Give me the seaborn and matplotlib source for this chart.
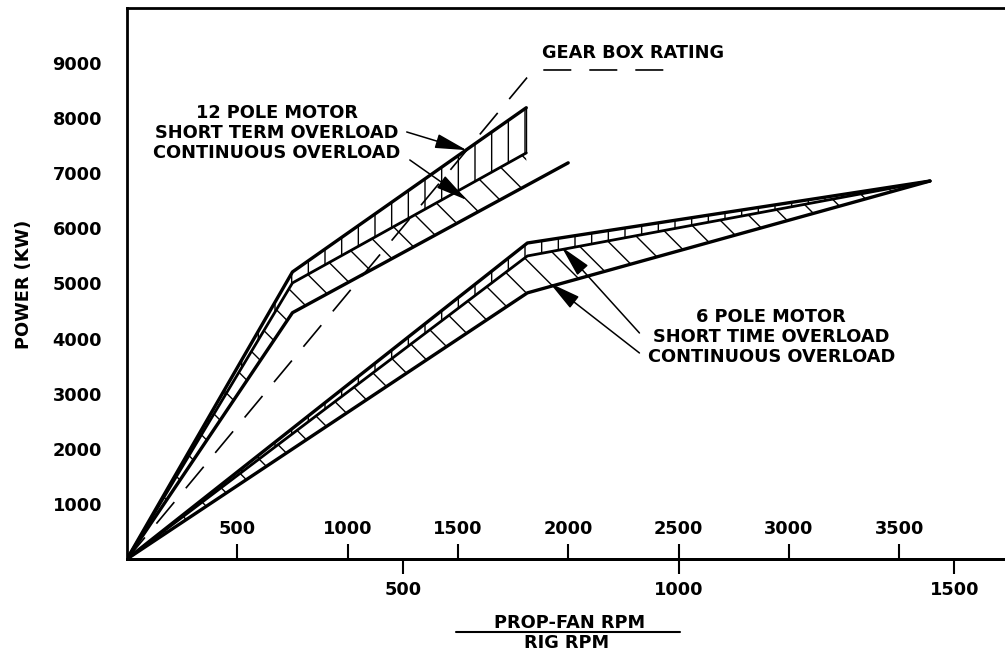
import numpy as np
import matplotlib
matplotlib.use("Agg")
import matplotlib.pyplot as plt
import seaborn as sns
from matplotlib.lines import Line2D

# ---------------- data ----------------
rig_rpm_ticks = [500, 1000, 1500, 2000, 2500, 3000, 3500]
prop_rpm_ticks = [500, 1000, 1500]
power_ticks = [1000, 2000, 3000, 4000, 5000, 6000, 7000, 8000, 9000]
rig_per_prop = 2.5

# 12 pole motor
rpm12 = [0, 750, 1810]
pw12_short = [0, 5210, 8190]      # short term overload
pw12_cont = [0, 5010, 7370]       # continuous overload (upper edge)
rpm12_low = [0, 750, 2000]
pw12_low = [0, 4470, 7190]        # continuous overload (lower edge)

# 6 pole motor
rpm6 = [0, 1815, 3640]
pw6_short = [0, 5735, 6860]
pw6_cont = [0, 5500, 6860]
pw6_low = [0, 4830, 6860]

# gear box rating
rpm_gear = [0, 1812, 1880, 2482]
pw_gear = [0, 8730, 8875, 8875]

label12 = ["12 POLE MOTOR", "SHORT TERM OVERLOAD", "CONTINUOUS OVERLOAD"]
label6 = ["6 POLE MOTOR", "SHORT TIME OVERLOAD", "CONTINUOUS OVERLOAD"]
label_gear = "GEAR BOX RATING"
ylabel = "POWER (KW)"
xlabel_top = "PROP-FAN RPM"
xlabel_bot = "RIG RPM"

# ---------------- style ----------------
sns.set_theme(style="white")
FS = 12.8
plt.rcParams.update({
    "font.family": ["DejaVu Sans"],
    "font.weight": "bold",
    "font.size": FS,
    "axes.labelweight": "bold",
    "axes.labelcolor": "black",
    "hatch.linewidth": 1.0,
    "hatch.color": "black",
    "axes.edgecolor": "black",
    "xtick.color": "black",
    "ytick.color": "black",
    "xtick.labelcolor": "black",
    "ytick.labelcolor": "black",
    "text.color": "black",
})

W, H = 1005, 656
fig = plt.figure(figsize=(W / 100, H / 100), dpi=100)
fig.patch.set_facecolor("white")
L, B, T = 127, 559, 8
ax = fig.add_axes([L / W, (H - B) / H, (W - L) / W, (B - T) / H])
ax.set_facecolor("white")

px_per_rpm = 110.3 / 500
ax.set_xlim(0, (W - L) / px_per_rpm)
ax.set_ylim(0, 10000)

k = dict(ax=ax, color="black", estimator=None, sort=False, legend=False)

# 12 pole motor
ax.fill_between(rpm12, pw12_cont, pw12_short, facecolor="none",
                edgecolor="black", hatch="|", linewidth=0)
ax.fill_between(rpm12, np.interp(rpm12, rpm12_low, pw12_low), pw12_cont,
                facecolor="none", edgecolor="black", hatch="\\", linewidth=0)
sns.lineplot(x=rpm12, y=pw12_short, lw=2.4, **k)
sns.lineplot(x=rpm12, y=pw12_cont, lw=2.0, **k)
sns.lineplot(x=rpm12_low, y=pw12_low, lw=2.4, **k)
ax.vlines(rpm12[-1], pw12_cont[-1], pw12_short[-1], color="black", lw=1.0)

# 6 pole motor
ax.fill_between(rpm6, pw6_cont, pw6_short, facecolor="none",
                edgecolor="black", hatch="|", linewidth=0)
ax.fill_between(rpm6, pw6_low, pw6_cont, facecolor="none",
                edgecolor="black", hatch="\\", linewidth=0)
sns.lineplot(x=rpm6, y=pw6_short, lw=2.4, **k)
sns.lineplot(x=rpm6, y=pw6_cont, lw=2.0, **k)
sns.lineplot(x=rpm6, y=pw6_low, lw=2.4, **k)

# gear box rating
sns.lineplot(x=rpm_gear, y=pw_gear, lw=1.2, dashes=False, **k)
ax.lines[-1].set_linestyle((0, (16.8, 10.8)))

# ---------------- text ----------------
for txt, yy in zip(label12, [8004, 7641, 7278]):
    ax.text(679, yy, txt, ha="center", va="baseline", fontsize=FS, fontweight="bold")
for txt, yy in zip(label6, [4302, 3939, 3576]):
    ax.text(2921, yy, txt, ha="center", va="baseline", fontsize=FS, fontweight="bold")
ax.text(1880, 9093, label_gear, ha="left", va="baseline", fontsize=FS, fontweight="bold")

arrow = dict(arrowstyle="-|>,head_length=1.4,head_width=0.32", color="black",
             lw=1.1, shrinkA=0, shrinkB=0, mutation_scale=14)
ax.annotate("", xy=(1540, 7420), xytext=(1268, 7750), arrowprops=arrow)
ax.annotate("", xy=(1540, 6516), xytext=(1282, 7242), arrowprops=arrow)
ax.annotate("", xy=(1970, 5663), xytext=(2323, 4102), arrowprops=arrow)
ax.annotate("", xy=(1916, 5009), xytext=(2323, 3739), arrowprops=arrow)

# ---------------- axes ----------------
for s in ["left", "bottom", "top"]:
    ax.spines[s].set_linewidth(2.0)
    ax.spines[s].set_color("black")
ax.spines["right"].set_visible(False)

ax.set_yticks(power_ticks)
ax.tick_params(axis="y", direction="inout", length=21.6, width=1.5, pad=7.2,
               labelsize=FS, colors="black")
ax.tick_params(axis="x", bottom=False, labelbottom=False)

sec_top = ax.secondary_xaxis(0.0)
sec_top.set_alignment("top")
sec_top.set_xticks(rig_rpm_ticks)
sec_top.tick_params(axis="x", direction="out", length=10.8, width=1.5, pad=4.3,
                    labelsize=FS, colors="black")
sec_top.spines["top"].set_linewidth(2.0)

sec_bot = ax.secondary_xaxis("bottom", functions=(lambda r: r / rig_per_prop,
                                                  lambda p: p * rig_per_prop))
sec_bot.set_xticks(prop_rpm_ticks)
sec_bot.tick_params(axis="x", direction="out", length=10.8, width=1.5, pad=5,
                    labelsize=FS, colors="black")
sec_bot.spines["bottom"].set_linewidth(2.0)

for a in (ax, sec_top, sec_bot):
    for lab in a.get_xticklabels() + a.get_yticklabels():
        lab.set_fontweight("bold")

ax.set_ylabel(ylabel, fontsize=FS, fontweight="bold", color="black")
ax.yaxis.set_label_coords(-0.107, 0.499)

fig.text(569.5 / W, 1 - 628 / H, xlabel_top, ha="center", va="baseline",
         fontsize=FS, fontweight="bold")
fig.text(567 / W, 1 - 648 / H, xlabel_bot, ha="center", va="baseline",
         fontsize=FS, fontweight="bold")
fig.add_artist(Line2D([456 / W, 680 / W], [1 - 632 / H] * 2, color="black",
                      lw=1.5, transform=fig.transFigure))

fig.savefig("out.png", dpi=100, facecolor="white")
